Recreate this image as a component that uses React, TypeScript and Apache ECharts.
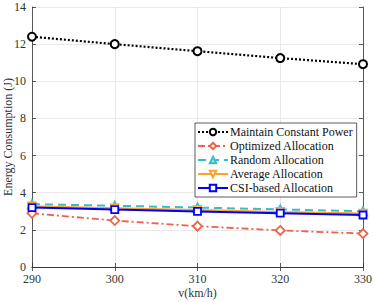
import React, { useEffect, useRef } from "react";
import * as echarts from "echarts";

const speeds = [290, 300, 310, 320, 330];
const constantPower = [12.4, 12.0, 11.62, 11.25, 10.92];
const optimized = [2.89, 2.5, 2.2, 1.97, 1.8];
const randomAlloc = [3.38, 3.3, 3.2, 3.1, 3.0];
const averageAlloc = [3.27, 3.17, 3.07, 2.97, 2.88];
const csiBased = [3.2, 3.09, 2.99, 2.9, 2.8];
const seriesNames = [
  "Maintain Constant Power",
  "Optimized Allocation",
  "Random Allocation",
  "Average Allocation",
  "CSI-based Allocation",
];

const FONT = "'Liberation Serif', 'Times New Roman', serif";

export default function App() {
  const ref = useRef<HTMLDivElement>(null);
  useEffect(() => {
    if (!ref.current) return;
    const chart = echarts.init(ref.current, null, { renderer: "svg" });
    const pair = (vals: number[]) => speeds.map((s, i) => [s, vals[i]]);
    const axisLine = { show: true, lineStyle: { color: "#333", width: 0.8 } };
    const tick = { show: true, inside: true, length: 4, lineStyle: { color: "#333", width: 0.8 } };
    chart.setOption({
      animation: false,
      backgroundColor: "#fff",
      textStyle: { fontFamily: FONT },
      grid: { left: 32, right: 11, top: 7, bottom: 35, containLabel: false, outerBoundsMode: "none" },
      legend: {
        orient: "vertical",
        left: 195,
        top: 123,
        data: seriesNames,
        itemWidth: 30,
        itemHeight: 8,
        itemGap: 2,
        padding: [3, 4, 3, 2],
        backgroundColor: "#fff",
        borderColor: "#333",
        borderWidth: 0.8,
        textStyle: { fontFamily: FONT, fontSize: 12, color: "#111", padding: [0, 0, 0, -3] },
      },
      xAxis: [
        {
          type: "value",
          min: 290,
          max: 330,
          interval: 10,
          name: "v(km/h)",
          nameLocation: "middle",
          nameGap: 20,
          nameMoveOverlap: false,
          nameTextStyle: { fontFamily: FONT, fontSize: 12, color: "#333" },
          axisLine,
          axisTick: tick,
          axisLabel: { fontFamily: FONT, fontSize: 12, color: "#333", margin: 6 },
          splitLine: { show: true, lineStyle: { color: "#e3e3e3", width: 0.8 } },
        },
        {
          type: "value",
          position: "top",
          min: 290,
          max: 330,
          interval: 10,
          axisLine,
          axisTick: tick,
          axisLabel: { show: false },
          splitLine: { show: false },
        },
      ],
      yAxis: [
        {
          type: "value",
          min: 0,
          max: 14,
          interval: 2,
          name: "Energy Consumption (J)",
          nameLocation: "middle",
          nameGap: 18,
          nameMoveOverlap: false,
          nameTextStyle: { fontFamily: FONT, fontSize: 12, color: "#333" },
          axisLine,
          axisTick: tick,
          axisLabel: { fontFamily: FONT, fontSize: 12, color: "#333", margin: 6 },
          splitLine: { show: true, lineStyle: { color: "#e3e3e3", width: 0.8 } },
        },
        {
          type: "value",
          position: "right",
          min: 0,
          max: 14,
          interval: 2,
          axisLine,
          axisTick: tick,
          axisLabel: { show: false },
          splitLine: { show: false },
        },
      ],
      series: [
        {
          name: seriesNames[0],
          type: "line",
          data: pair(constantPower),
          symbol: "circle",
          symbolSize: 8,
          itemStyle: { color: "#fff", borderColor: "#000", borderWidth: 2 },
          lineStyle: { color: "#000", width: 2.2, type: [2, 2] },
          z: 5,
        },
        {
          name: seriesNames[1],
          type: "line",
          data: pair(optimized),
          symbol: "diamond",
          symbolSize: 9,
          itemStyle: { color: "#fff", borderColor: "#f0604a", borderWidth: 1.8 },
          lineStyle: { color: "#f0604a", width: 1.8, type: [7, 3, 2, 3] },
          z: 4,
        },
        {
          name: seriesNames[2],
          type: "line",
          data: pair(randomAlloc),
          symbol: "triangle",
          symbolSize: 9,
          itemStyle: { color: "#a8e4e8", borderColor: "#3cbcc8", borderWidth: 1.5 },
          lineStyle: { color: "#3cbcc8", width: 2, type: [8, 5] },
          z: 3,
        },
        {
          name: seriesNames[3],
          type: "line",
          data: pair(averageAlloc),
          symbol: "triangle",
          symbolRotate: 180,
          symbolSize: 8,
          itemStyle: { color: "#fff", borderColor: "#ffa02c", borderWidth: 1.5 },
          lineStyle: { color: "#ffa02c", width: 1.8 },
          z: 4,
        },
        {
          name: seriesNames[4],
          type: "line",
          data: pair(csiBased),
          symbol: "rect",
          symbolSize: 7,
          itemStyle: { color: "#fff", borderColor: "#0000ff", borderWidth: 1.8 },
          lineStyle: { color: "#0000ff", width: 2 },
          z: 6,
        },
      ],
    });
    return () => chart.dispose();
  }, []);
  return <div ref={ref} style={{ width: 374, height: 302, position: "absolute", left: 0, top: 0 }} />;
}
